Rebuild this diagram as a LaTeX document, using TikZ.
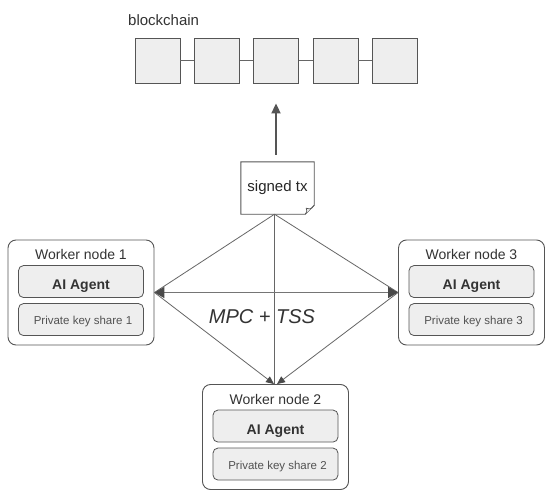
\documentclass[tikz,border=0pt]{standalone}
\usepackage{fontspec}
\setmainfont{Liberation Sans}
\usetikzlibrary{arrows.meta,calc}
\definecolor{linegray}{HTML}{555555}
\definecolor{boxfill}{HTML}{EEEEEE}
\definecolor{txtgray}{HTML}{333333}
\definecolor{conngray}{HTML}{666666}
\definecolor{headgray}{HTML}{4A4A4A}
\tikzset{
  block/.style={draw=linegray, fill=boxfill, line width=0.9pt, minimum width=45pt, minimum height=45pt, inner sep=0pt},
  chainlink/.style={draw=conngray, line width=0.9pt},
  worker/.style={draw=linegray, fill=white, rounded corners=8pt, line width=0.9pt, minimum width=146pt, minimum height=105pt, inner sep=0pt},
  wtitle/.style={text=txtgray, font=\fontsize{14}{16}\selectfont, inner sep=0pt},
  agentbox/.style={draw=linegray, fill=boxfill, rounded corners=5pt, line width=0.8pt, minimum width=125pt, minimum height=32pt, inner sep=0pt, text height=16pt, text depth=0pt, text=txtgray, font=\bfseries\fontsize{14}{16}\selectfont},
  keybox/.style={draw=linegray, fill=boxfill, rounded corners=5pt, line width=0.8pt, minimum width=125pt, minimum height=32pt, inner sep=0pt, text height=10.3pt, text depth=0pt, text=txtgray!85, font=\fontsize{11.5}{13}\selectfont},
  notestyle/.style={draw=linegray, line width=0.9pt, fill=white},
  conn/.style={draw=conngray, line width=0.8pt},
  bigconn/.style={draw=conngray!90, line width=1.6pt},
  headS/.style={-{Triangle[length=8pt,width=7pt,fill=headgray,color=headgray]}},
  uparrow/.style={draw=linegray, line width=2pt, -{Triangle[length=10pt,width=9pt]}}
}
\newcommand\workerbox[4]{%
  \node[worker] (#1) at (#2,#3) {};
  \node[wtitle] (#1t) at ($(#1.north)+(0,15)$) {Worker node #4};
  \node[agentbox] (#1a) at ($(#1.north)+(0,42)$) {AI Agent};
  \node[keybox] (#1k) at ($(#1.north)+(0,80)$) {\hspace{4pt}Private key share #4};
}
\begin{document}
\begin{tikzpicture}[x=1pt,y=-1pt]
\useasboundingbox (0,0) rectangle (553,500);
\fill[white] (0,0) rectangle (553,500);

% blockchain label and blocks
\node[anchor=west, text=txtgray, font=\fontsize{15}{18}\selectfont, inner sep=0pt] (bclabel) at (128,20.5) {blockchain};
\node[block] (b1) at (157.5,60.5) {};
\node[block] (b2) at (217,60.5) {};
\node[block] (b3) at (276,60.5) {};
\node[block] (b4) at (335.5,60.5) {};
\node[block] (b5) at (395,60.5) {};
\draw[chainlink] (b1) -- (b2);
\draw[chainlink] (b2) -- (b3);
\draw[chainlink] (b3) -- (b4);
\draw[chainlink] (b4) -- (b5);

% signed tx note
\node[minimum width=73pt, minimum height=52pt, inner sep=0pt] (tx) at (277.5,188) {};
\draw[notestyle] (tx.north west) -- (tx.north east) -- ($(tx.south east)+(0,-9)$) -- ($(tx.south east)+(-9,0)$) -- (tx.south west) -- cycle;
\draw[notestyle, fill=boxfill, line width=0.7pt] ($(tx.south east)+(0,-9)$) .. controls ($(tx.south east)+(-3,-4)$) and ($(tx.south east)+(-6,-5)$) .. ($(tx.south east)+(-8,-6)$) .. controls ($(tx.south east)+(-7,-3)$) .. ($(tx.south east)+(-9,0)$);
\node[text=black!85, font=\fontsize{15}{18}\selectfont, inner sep=0pt] (txt) at (tx.center) {signed tx};

% arrow to blockchain
\draw[uparrow, shorten <=7pt, shorten >=20pt] (b3.south |- tx.north) -- (b3.south);

% workers
\workerbox{w1}{81}{292.5}{1}
\workerbox{w3}{471.5}{292.5}{3}
\workerbox{w2}{275.5}{437}{2}

% connectors
\coordinate (txo) at ($(tx.south)+(-3,0)$);
\draw[conn] (txo) -- (w1.east);
\draw[conn] (txo) -- (w3.west);
\draw[conn] (txo) -- (w2.north -| txo);
\draw[bigconn, {Triangle[length=10pt,width=11pt,fill=headgray,color=headgray]}-{Triangle[length=10pt,width=11pt,fill=headgray,color=headgray]}] (w1.east) -- (w3.west);
\draw[conn, headS] (w1.east) -- ($(w2.north)+(-1.5,0)$);
\draw[conn, headS] (w3.west) -- ($(w2.north)+(1.5,0)$);

\node[text=txtgray, font=\itshape\fontsize{20}{24}\selectfont, inner sep=0pt] (mpc) at (262,317) {MPC + TSS};
\end{tikzpicture}
\end{document}
